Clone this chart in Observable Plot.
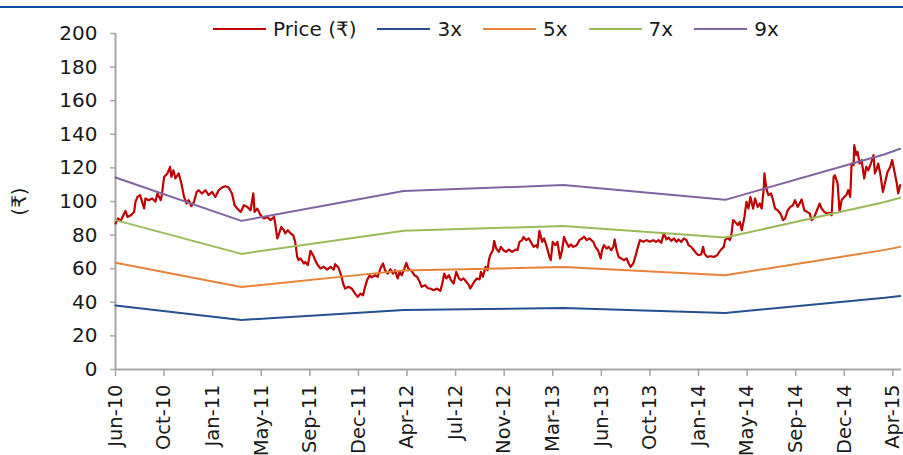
<!DOCTYPE html>
<html>
<head>
<meta charset="utf-8">
<script src="https://cdn.jsdelivr.net/npm/d3@7"></script>
<script src="https://cdn.jsdelivr.net/npm/@observablehq/plot@0.6"></script>
<style>
  body { margin: 0; background: #fff; font-family: "DejaVu Sans", "Noto Sans", sans-serif; }
  #wrap { position: relative; width: 903px; height: 455px; overflow: hidden; }
  #wrap svg { position: absolute; left: 0; top: 0; }
  #topRule { position: absolute; left: 0; top: 6px; width: 903px; height: 2px; background: #0b4ea2; }
  #legend { position: absolute; left: 213px; top: 18px; display: flex; align-items: center;
            font-size: 20px; line-height: 22px; color: #1a1a1a; z-index: 2; }
  .item { display: flex; align-items: center; margin-right: 21px; }
  .swatch { width: 53px; height: 2px; margin-right: 7px; }
</style>
</head>
<body>
<div id="wrap">
  <div id="topRule"></div>
  <div id="legend"></div>
</div>
<script>
// Category axis: trading sessions, with a date label every 73 sessions
const sessionsPerTick = 73;
const tickLabels = ["Jun-10","Oct-10","Jan-11","May-11","Sep-11","Dec-11","Apr-12","Jul-12",
  "Nov-12","Mar-13","Jun-13","Oct-13","Jan-14","May-14","Sep-14","Dec-14","Apr-15"];
const tickSessions = tickLabels.map((_, i) => i * sessionsPerTick);

// Share price (₹) by session index
const priceSession = [
  0,4,8,13,15,18,23,28,30,33,37,40,43,45,50,55,60,63,68,70,73,78,82,84,87,90,95,99,103,107,
  110,114,118,122,125,130,135,140,145,150,155,160,165,170,175,179,183,188,193,198,203,207,209,213,218,223,228,233,238,
  240,243,245,249,253,255,259,263,267,270,273,275,278,283,285,289,293,297,300,304,308,313,318,323,328,330,335,339,342,345,
  350,355,360,364,368,372,375,378,382,385,390,394,398,402,405,409,413,417,420,424,427,430,434,437,440,445,449,453,457,460,465,470,
  473,478,483,488,491,494,497,501,504,508,512,516,519,523,527,531,533,536,539,543,547,549,552,556,559,561,563,567,569,572,
  576,579,583,587,591,596,601,604,607,611,613,617,621,624,628,632,634,637,641,644,648,652,654,657,661,664,668,671,674,677,
  681,684,688,693,697,701,704,708,712,
  718,721,725,729,731,734,738,741,745,748,750,753,756,760,764,768,771,774,778,781,785,788,793,798,803,808,812,816,820,824,
  828,831,835,839,843,846,850,854,858,861,865,869,873,876,880,883,885,889,894,899,904,909,914,916,920,923,925,928,931,935,938,941,
  945,948,951,954,958,961,965,968,971,974,975,978,981,985,988,991,995,999,1003,1006,1010,1014,1018,1021,1025,1028,1031,1035,1039,1043,
  1046,1050,1054,1058,1061,1065,1069,1073,1076,1079,1081,1085,1088,1091,1095,1098,1101,1104,1106,1109,1110,1113,1115,1118,1121,1125,1128,1131,1135,1139,
  1141,1144,1146,1149,1153,1156,1160,1164,1167,1170,1174,1176,1179
];
const priceValue = [
  86.9,89.9,88.5,92.9,94.4,90.8,91.8,93.8,99.8,102.7,103.8,99.8,95.8,101.8,100.8,101.8,99.8,104.8,100.8,104.8,114.6,116.7,120.6,114.6,118.6,113.7,116.7,110.7,102.7,98.8,
  100.8,97.2,99.8,105.7,106.7,104.8,106.7,103.8,105.7,102.7,106.7,108.3,109.1,108.3,104.8,97.8,95.8,93.8,97.8,96.8,94.8,104.8,93.8,95.8,91.8,89.9,90.8,88.9,90.8,
  86.9,78.0,79.9,84.9,82.9,81.0,82.9,81.0,79.9,76.0,67.0,65.1,66.1,63.1,64.1,62.1,70.6,68.0,65.1,62.1,60.1,61.1,59.5,61.1,59.5,62.7,60.7,56.1,51.2,48.2,
  49.2,48.2,45.2,43.2,45.2,44.2,49.2,53.2,56.1,54.8,56.1,55.2,60.1,63.1,59.1,57.1,59.7,57.1,59.1,54.2,58.1,56.1,60.1,63.5,60.1,58.7,56.1,55.2,52.2,49.2,50.2,48.2,
  48.2,47.2,48.2,46.8,51.2,57.1,54.2,56.1,53.2,51.2,58.1,54.2,53.2,54.2,52.2,50.2,48.2,50.2,52.2,54.2,53.6,58.1,55.2,61.1,59.1,65.1,68.0,71.0,76.5,72.0,
  70.0,73.0,71.0,70.0,71.4,70.0,71.4,71.0,76.0,77.0,78.9,77.0,78.0,76.0,73.0,74.0,72.6,82.5,76.0,78.0,73.0,67.0,65.1,76.0,74.0,76.0,66.1,71.0,78.9,76.0,
  73.0,74.5,73.0,74.0,77.0,78.0,79.0,77.0,78.0,
  76.0,73.0,71.0,66.1,71.0,74.0,72.0,73.0,71.0,73.0,77.4,71.0,67.0,66.1,65.1,66.1,63.1,61.1,63.1,67.0,73.0,77.0,76.0,77.0,76.0,77.0,76.0,77.0,75.4,81.0,
  77.4,78.5,76.6,78.0,76.0,77.4,76.0,78.0,77.0,74.0,73.0,71.0,69.0,68.0,68.5,73.0,69.0,67.0,67.4,67.0,68.0,71.0,73.0,77.0,78.5,77.0,78.9,88.9,87.9,85.9,87.9,82.9,
  90.8,99.8,95.8,102.7,95.8,101.8,96.8,98.8,95.8,107.7,116.7,107.7,103.8,104.8,100.8,95.8,94.8,92.9,88.9,89.9,94.8,96.8,97.8,100.8,96.8,98.8,101.2,94.8,93.8,92.9,
  88.9,90.8,94.8,98.8,95.8,93.8,92.9,93.3,91.8,114.6,115.6,110.7,93.8,100.8,102.7,103.8,106.7,102.7,122.6,121.6,133.5,127.6,129.5,122.6,124.6,113.7,120.6,118.6,122.6,127.6,
  116.7,119.6,122.6,116.7,105.7,110.7,117.6,120.6,124.6,118.6,110.7,104.8,109.7
];

// Earnings per share (₹) used for the PE bands, by session index
const epsSession = [0, 189, 433, 673, 916, 1156, 1179];
const epsValue = [12.7, 9.83, 11.8, 12.2, 11.22, 14.24, 14.6];

// PE multiples and their colours
const multiples = [3, 5, 7, 9];
const bandColors = ["#24508f", "#e8833a", "#9bbb59", "#8064a2"];
const priceColor = "#c00000";

const yTicks = d3.range(0, 201, 20);

const priceRows = priceSession.map((s, i) => ({s, v: priceValue[i]}));
const bandRows = multiples.flatMap(m =>
  epsSession.map((s, i) => ({s, m: m + "x", v: epsValue[i] * m})));

const axisGrey = "#a6a6a6";
const textColor = "#1a1a1a";

const chart = Plot.plot({
  width: 903,
  height: 455,
  marginLeft: 115,
  marginRight: 2,
  marginTop: 33,
  marginBottom: 86,
  style: {fontFamily: '"DejaVu Sans", "Noto Sans", sans-serif', fontSize: "19px", color: textColor, background: "transparent", overflow: "visible"},
  x: {domain: [0, 1181], axis: null},
  y: {domain: [0, 200], axis: null},
  color: {domain: multiples.map(m => m + "x"), range: bandColors},
  marks: [
    // axis lines
    Plot.ruleX([0], {stroke: axisGrey, strokeWidth: 2}),
    Plot.ruleY([0], {stroke: axisGrey, strokeWidth: 2}),
    // y ticks and labels
    Plot.axisY(yTicks, {tickSize: 5, text: null, label: null, stroke: axisGrey, strokeWidth: 1.5}),
    Plot.axisY(yTicks, {tickSize: 0, tickPadding: 18, fill: textColor, fontSize: 20,
                        label: "(₹)", labelAnchor: "center", labelOffset: 104, labelArrow: "none"}),
    // x ticks and labels
    Plot.axisX(tickSessions, {tickSize: 7, text: null, label: null, stroke: axisGrey, strokeWidth: 1.5}),
    Plot.axisX(tickSessions, {tickSize: 0, tickPadding: 15, tickRotate: -90, fill: textColor, fontSize: 19.5,
                              tickFormat: d => tickLabels[Math.round(d / sessionsPerTick)], label: null}),
    // price and PE bands
    Plot.line(priceRows, {x: "s", y: "v", stroke: priceColor, strokeWidth: 2.2}),
    Plot.line(bandRows, {x: "s", y: "v", z: "m", stroke: "m", strokeWidth: 2})
  ]
});
document.getElementById("wrap").appendChild(chart);

// legend
const legend = d3.select("#legend");
const legendItems = [{label: "Price (₹)", color: priceColor}]
  .concat(multiples.map((m, i) => ({label: m + "x", color: bandColors[i]})));
for (const it of legendItems) {
  const item = legend.append("div").attr("class", "item");
  item.append("div").attr("class", "swatch").style("background", it.color);
  item.append("span").text(it.label);
}
</script>
</body>
</html>
